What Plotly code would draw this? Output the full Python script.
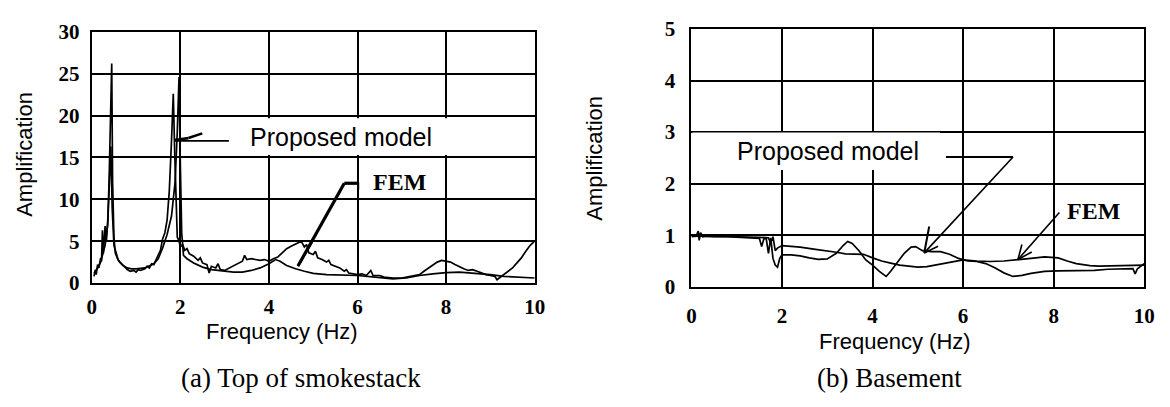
import plotly.graph_objects as go

W, H = 1170, 407

# ---------------- data ----------------
# (a) Top of smokestack
top_a_x = [0.05,0.08,0.1,0.13,0.16,0.2,0.22,0.24,0.26,0.3,0.33,0.36,0.39,0.42,0.45,0.47,0.5,0.53,0.58,0.63,0.7,0.75,0.8,0.87,0.95,1.0,1.05,1.1,1.2,1.25,1.3,1.35,1.4,1.45,1.5,1.55,1.6,1.65,1.7,1.75,1.8,1.84,1.87,1.9,1.93,1.97,2.0,2.05,2.1,2.15,2.2,2.3,2.4,2.45,2.5,2.6,2.65,2.7,2.8,2.85,2.9,3.0,3.1,3.2,3.3,3.4,3.45,3.5,3.6,3.7,3.8,3.9,4.0,4.1,4.2,4.3,4.4,4.5,4.6,4.7,4.75,4.8,4.85,4.9,5.0,5.05,5.1,5.2,5.3,5.35,5.4,5.5,5.6,5.7,5.75,5.8,5.9,6.0,6.1,6.2,6.3,6.35,6.5,6.6,6.8,7.0,7.2,7.4,7.5,7.6,7.7,7.8,7.9,8.0,8.1,8.2,8.3,8.4,8.5,8.6,8.7,8.8,8.9,9.0,9.1,9.15,9.2,9.3,9.4,9.5,9.6,9.7,9.8,9.9,10.0]
top_a_y = [0.8,1.6,1.0,2.2,1.8,3.0,2.6,6.3,3.5,6.8,5.0,7.5,12,20,26.2,12,5.5,3.6,2.9,2.5,2.2,1.9,1.6,1.4,1.5,1.3,1.6,1.5,1.7,2.0,1.8,2.3,2.2,2.8,3.2,3.9,5.3,6.0,7.5,11,17,22.6,16,9,5.5,5.0,4.3,4.6,3.9,4.1,3.5,3.2,2.7,3.0,2.4,2.2,1.2,2.0,1.8,2.3,1.6,1.5,1.8,2.1,2.4,2.6,3.3,2.8,2.9,2.8,2.7,2.8,2.6,2.9,3.1,3.6,4.1,4.4,4.7,4.9,4.8,4.3,4.6,3.6,3.4,3.8,3.0,2.8,2.5,2.7,2.2,2.0,1.8,1.4,1.6,1.2,1.1,1.0,1.1,0.9,1.5,0.9,0.9,0.7,0.6,0.6,0.8,1.0,1.4,1.8,2.2,2.5,2.7,2.6,2.5,2.2,1.9,1.7,1.5,1.6,1.4,1.2,1.0,0.9,0.8,0.4,0.6,0.9,1.3,1.8,2.4,3.0,3.8,4.5,5.0]

top_b_x = [0.05,0.1,0.2,0.3,0.36,0.4,0.43,0.46,0.5,0.6,0.7,0.8,0.9,1.0,1.2,1.4,1.5,1.6,1.7,1.8,1.88,1.93,1.97,2.0,2.03,2.07,2.15,2.3,2.5,2.7,3.0,3.2,3.4,3.6,3.8,4.0,4.15,4.25,4.4,4.6,4.8,5.0,5.3,5.6,6.0,6.4,6.8,7.1,7.4,7.7,8.0,8.3,8.6,9.0,9.3,9.6,10.0]
top_b_y = [1.2,1.5,2.5,4.5,7,12,16.3,9,4.5,2.7,2.1,1.8,1.7,1.7,1.8,2.3,2.9,4.2,5.8,8,12,18,24.6,14,6,3.3,2.9,2.4,1.9,1.6,1.4,1.3,1.3,1.5,1.8,2.3,2.8,2.6,2.1,1.7,1.4,1.15,1.0,0.95,0.9,0.7,0.5,0.6,0.9,1.1,1.25,1.3,1.2,1.0,0.8,0.7,0.6]

# (b) Basement
base_l_x = [0.0,0.1,0.15,0.17,0.2,0.25,0.3,0.5,0.8,1.0,1.2,1.4,1.5,1.55,1.6,1.65,1.7,1.75,1.8,1.85,1.9,1.95,2.0,2.2,2.4,2.6,2.8,3.0,3.2,3.35,3.45,3.55,3.7,3.85,4.0,4.15,4.3,4.4,4.55,4.7,4.85,4.95,5.1,5.3,5.5,5.7,5.9,6.1,6.3,6.5,6.7,6.9,7.1,7.3,7.5,7.8,8.1,8.5,8.9,9.2,9.5,9.75,9.8,9.85,10.0]
base_l_y = [0.97,0.98,1.08,0.9,1.05,0.97,0.98,0.97,0.97,0.96,0.96,0.95,0.94,0.78,0.93,0.94,0.65,0.95,0.55,0.42,0.38,0.55,0.62,0.62,0.6,0.56,0.53,0.54,0.65,0.8,0.88,0.84,0.7,0.52,0.42,0.3,0.2,0.3,0.48,0.65,0.77,0.78,0.7,0.68,0.68,0.63,0.55,0.5,0.49,0.45,0.37,0.27,0.2,0.22,0.26,0.3,0.31,0.31,0.32,0.34,0.35,0.35,0.25,0.35,0.45]

base_u_x = [0.0,0.5,1.0,1.5,1.7,1.75,1.8,1.85,1.9,2.0,2.2,2.4,2.7,2.9,3.2,3.4,3.6,3.8,4.0,4.2,4.4,4.6,4.8,5.0,5.2,5.5,5.8,6.0,6.3,6.6,6.9,7.2,7.5,7.8,8.1,8.3,8.5,8.8,9.0,9.5,10.0]
base_u_y = [0.98,0.98,0.97,0.96,0.95,0.85,0.97,0.7,0.75,0.8,0.79,0.77,0.73,0.71,0.67,0.64,0.63,0.63,0.56,0.5,0.46,0.42,0.4,0.38,0.39,0.44,0.5,0.52,0.5,0.49,0.5,0.52,0.55,0.58,0.56,0.5,0.45,0.41,0.4,0.41,0.42]

x_ticks = [0, 2, 4, 6, 8, 10]
y_ticks_a = [0, 5, 10, 15, 20, 25, 30]
y_ticks_b = [0, 1, 2, 3, 4, 5]

# ---------------- helpers ----------------
def px(x):
    return x / W

def py(y):
    return 1 - y / H

fig = go.Figure()
line_style = dict(color="black", width=1.7)
fig.add_trace(go.Scatter(x=top_a_x, y=top_a_y, mode="lines", line=line_style,
                         xaxis="x", yaxis="y", showlegend=False))
fig.add_trace(go.Scatter(x=top_b_x, y=top_b_y, mode="lines", line=line_style,
                         xaxis="x", yaxis="y", showlegend=False))
fig.add_trace(go.Scatter(x=base_l_x, y=base_l_y, mode="lines", line=line_style,
                         xaxis="x2", yaxis="y2", showlegend=False))
fig.add_trace(go.Scatter(x=base_u_x, y=base_u_y, mode="lines", line=line_style,
                         xaxis="x2", yaxis="y2", showlegend=False))

tickfont = dict(family="Liberation Serif", size=21, color="black", weight="bold")
common = dict(showgrid=True, gridcolor="black", gridwidth=2, showline=True,
              linecolor="black", linewidth=2, mirror=True, zeroline=False,
              ticks="", tickfont=tickfont)

fig.update_layout(
    width=W, height=H, margin=dict(l=0, r=0, t=0, b=0),
    paper_bgcolor="white", plot_bgcolor="white",
    xaxis=dict(domain=[px(88), px(537)], range=[0, 10], tickvals=x_ticks,
               anchor="y", ticklabelstandoff=4, **common),
    yaxis=dict(domain=[py(288), py(21)], range=[0, 30], tickvals=y_ticks_a,
               anchor="x", ticklabelstandoff=6, **common),
    xaxis2=dict(domain=[px(696), px(1155)], range=[0, 10], tickvals=x_ticks,
                anchor="y2", ticklabelstandoff=9, **common),
    yaxis2=dict(domain=[py(292), py(18)], range=[0, 5], tickvals=y_ticks_b,
                anchor="x2", ticklabelstandoff=10, **common),
)

shapes = []
def rect(x0, y0, x1, y1):
    shapes.append(dict(type="rect", xref="paper", yref="paper",
                       x0=px(x0), x1=px(x1), y0=py(y0), y1=py(y1),
                       fillcolor="white", line=dict(width=0), layer="above"))

def seg(x0, y0, x1, y1, w=1.6):
    shapes.append(dict(type="line", xref="paper", yref="paper",
                       x0=px(x0), x1=px(x1), y0=py(y0), y1=py(y1),
                       line=dict(color="black", width=w), layer="above"))

# left callouts
rect(227, 113, 535, 152)
seg(172, 137, 227, 137, 1.6)
seg(172, 136, 186, 134, 2.6)
seg(186, 134, 200, 129, 2.6)
seg(344, 182, 297, 270, 3.2)
seg(344, 182, 358, 182, 3.2)
seg(358, 181, 358, 189, 2.2)
seg(297, 270, 311, 245, 2.2)

# right callouts
rect(697, 128, 948, 168)
seg(954, 154, 1022, 154, 2)
seg(1022, 154, 932, 256, 1.6)
seg(932, 256, 937, 228, 2)
seg(932, 256, 946, 249, 1.6)
seg(1069, 213, 1027, 263, 1.6)
seg(1027, 263, 1031, 247, 1.6)
seg(1027, 263, 1041, 255, 1.6)

fig.update_layout(shapes=shapes)

def text(x, y, s, family, size, bold=False, angle=0):
    fig.add_annotation(xref="paper", yref="paper", x=px(x), y=py(y), text=s,
                       showarrow=False, xanchor="center", yanchor="middle",
                       textangle=angle,
                       font=dict(family=family, size=size, color="black",
                                 weight="bold" if bold else "normal"))

sans = "Liberation Sans"
serif = "Liberation Serif"
text(341, 133, "Proposed model", sans, 25)
text(834, 148, "Proposed model", sans, 25)
text(400, 181, "FEM", serif, 24, bold=True)
text(1104, 211, "FEM", serif, 24, bold=True)
text(281, 339, "Frequency (Hz)", sans, 22)
text(902, 350, "Frequency (Hz)", sans, 22)
text(19, 151, "Amplification", sans, 22, angle=-90)
text(598, 155, "Amplification", sans, 22, angle=-90)
text(300, 389, "(a) Top of smokestack", serif, 27)
text(897, 389, "(b) Basement", serif, 27)

fig.write_html("out.html")
